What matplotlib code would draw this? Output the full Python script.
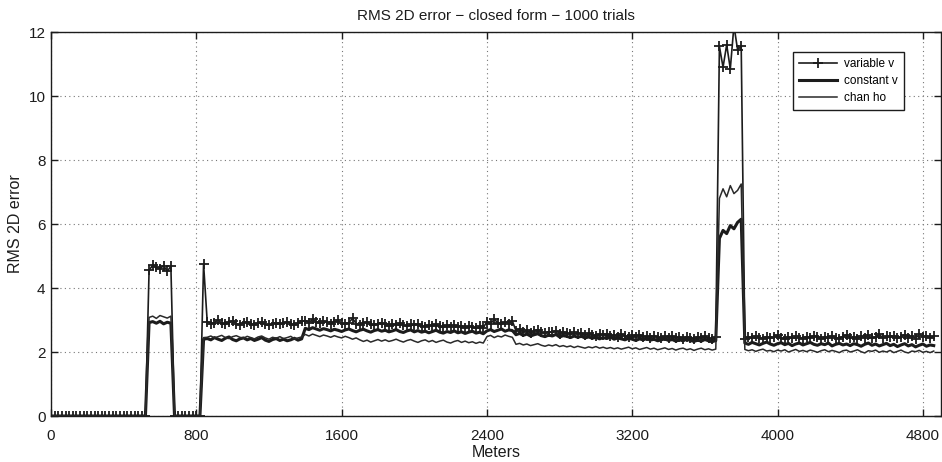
import numpy as np
import matplotlib
matplotlib.use("Agg")
import matplotlib.pyplot as plt

plt.rcParams['font.family'] = ['Liberation Sans', 'DejaVu Sans']

# distance along the track, one sample every 20 m
meters = np.arange(0, 4861, 20)

zeros_start = [0.0, 0.0, 0.0, 0.0, 0.0, 0.0, 0.0, 0.0, 0.0, 0.0, 0.0, 0.0, 0.0, 0.0,
               0.0, 0.0, 0.0, 0.0, 0.0, 0.0, 0.0, 0.0, 0.0, 0.0, 0.0, 0.0, 0.0]
zeros_gap = [0.0, 0.0, 0.0, 0.0, 0.0, 0.0, 0.0, 0.0]

variable_v = (
    zeros_start
    + [4.55, 4.72, 4.65, 4.60, 4.70, 4.52, 4.68]
    + zeros_gap
    + [4.75]
    + [2.95, 2.88, 2.92, 3.00, 2.90, 2.86, 2.93, 2.97, 2.89, 2.84, 2.91, 2.95, 2.88, 2.85,
       2.90, 2.93, 2.87, 2.83, 2.89, 2.92, 2.86, 2.90, 2.95, 2.88, 2.84, 2.90, 2.96]
    + [2.98, 2.92, 3.02, 2.95, 2.90, 2.96, 2.93, 2.88, 2.94, 2.99,
       2.91, 2.86, 2.92, 3.05, 2.89, 2.85, 2.90, 2.94, 2.87, 2.83,
       2.89, 2.92, 2.86, 2.81, 2.88, 2.84, 2.90, 2.85, 2.80, 2.86,
       2.83, 2.88, 2.82, 2.79, 2.85, 2.81, 2.87, 2.80, 2.77, 2.83,
       2.79, 2.84, 2.78, 2.82, 2.76, 2.81, 2.78, 2.74, 2.80, 2.76]
    + [2.95, 2.88, 3.02, 2.92, 2.86, 2.94, 2.89, 2.97]
    + [2.66, 2.72, 2.63, 2.68, 2.60, 2.65, 2.70, 2.62, 2.58, 2.64,
       2.61, 2.67, 2.57, 2.62, 2.59, 2.55, 2.61, 2.56, 2.60, 2.53,
       2.58, 2.54, 2.50, 2.56, 2.52, 2.57, 2.49, 2.53, 2.48, 2.55,
       2.51, 2.46, 2.52, 2.48, 2.54, 2.47, 2.50, 2.45, 2.51, 2.46,
       2.43, 2.49, 2.45, 2.50, 2.44, 2.47, 2.42, 2.48, 2.44, 2.41,
       2.47, 2.43, 2.49, 2.44, 2.40, 2.46]
    + [11.55, 10.90, 11.60, 10.85, 12.20, 11.45, 11.55]
    + [2.42, 2.47, 2.44, 2.50, 2.45, 2.41, 2.48, 2.43, 2.46, 2.52,
       2.44, 2.40, 2.47, 2.43, 2.49, 2.45, 2.42, 2.48, 2.44, 2.51,
       2.46, 2.41, 2.47, 2.43, 2.50, 2.45, 2.42, 2.48, 2.53, 2.44,
       2.47, 2.41, 2.49, 2.45, 2.52, 2.43, 2.47, 2.55, 2.44, 2.49,
       2.46, 2.51, 2.43, 2.48, 2.54, 2.45, 2.50, 2.42, 2.56, 2.47,
       2.51, 2.44, 2.49]
)

constant_v = (
    zeros_start
    + [2.92, 2.95, 2.90, 2.96, 2.88, 2.93, 2.90]
    + zeros_gap
    + [2.40]
    + [2.42, 2.38, 2.45, 2.40, 2.36, 2.43, 2.47, 2.39, 2.35, 2.41, 2.44, 2.38, 2.42, 2.36,
       2.40, 2.45, 2.37, 2.33, 2.39, 2.42, 2.36, 2.40, 2.35, 2.38, 2.43, 2.37, 2.41]
    + [2.74, 2.70, 2.76, 2.72, 2.68, 2.73, 2.70, 2.66, 2.71, 2.68,
       2.64, 2.69, 2.72, 2.67, 2.63, 2.68, 2.71, 2.66, 2.62, 2.67,
       2.70, 2.65, 2.68, 2.63, 2.66, 2.70, 2.64, 2.61, 2.66, 2.69,
       2.63, 2.67, 2.62, 2.65, 2.60, 2.64, 2.68, 2.62, 2.59, 2.64,
       2.61, 2.66, 2.60, 2.63, 2.58, 2.62, 2.65, 2.59, 2.62, 2.57]
    + [2.66, 2.70, 2.64, 2.68, 2.72, 2.65, 2.69, 2.67]
    + [2.54, 2.58, 2.52, 2.56, 2.50, 2.54, 2.57, 2.51, 2.48, 2.53,
       2.50, 2.55, 2.47, 2.51, 2.49, 2.45, 2.50, 2.46, 2.49, 2.44,
       2.47, 2.43, 2.46, 2.41, 2.45, 2.42, 2.47, 2.40, 2.44, 2.41,
       2.38, 2.43, 2.40, 2.36, 2.41, 2.38, 2.42, 2.37, 2.40, 2.35,
       2.38, 2.41, 2.36, 2.39, 2.34, 2.38, 2.35, 2.40, 2.36, 2.33,
       2.37, 2.34, 2.39, 2.35, 2.32, 2.36]
    + [5.55, 5.80, 5.70, 5.95, 5.85, 6.05, 6.15]
    + [2.28, 2.24, 2.30, 2.26, 2.22, 2.27, 2.31, 2.25, 2.21, 2.26,
       2.29, 2.23, 2.27, 2.20, 2.25, 2.28, 2.22, 2.26, 2.30, 2.24,
       2.21, 2.26, 2.23, 2.28, 2.19, 2.24, 2.27, 2.22, 2.25, 2.20,
       2.26, 2.23, 2.18, 2.24, 2.28, 2.21, 2.25, 2.19, 2.23, 2.27,
       2.20, 2.24, 2.17, 2.22, 2.26, 2.19, 2.23, 2.16, 2.21, 2.25,
       2.18, 2.22, 2.20]
)

chan_ho = (
    zeros_start
    + [3.08, 3.12, 3.05, 3.14, 3.10, 3.06, 3.12]
    + zeros_gap
    + [2.45]
    + [2.46, 2.50, 2.44, 2.48, 2.52, 2.45, 2.42, 2.48, 2.51, 2.46, 2.43, 2.49, 2.45, 2.41,
       2.47, 2.50, 2.44, 2.40, 2.46, 2.43, 2.48, 2.42, 2.45, 2.49, 2.41, 2.44, 2.47]
    + [2.55, 2.50, 2.56, 2.52, 2.48, 2.53, 2.50, 2.46, 2.51, 2.47,
       2.44, 2.49, 2.45, 2.40, 2.44, 2.38, 2.33, 2.37, 2.31, 2.35,
       2.39, 2.34, 2.38, 2.33, 2.36, 2.40, 2.35, 2.31, 2.36, 2.39,
       2.34, 2.30, 2.35, 2.38, 2.32, 2.36, 2.30, 2.34, 2.37, 2.31,
       2.28, 2.33, 2.36, 2.30, 2.34, 2.29, 2.32, 2.27, 2.31, 2.28]
    + [2.48, 2.52, 2.45, 2.50, 2.47, 2.53, 2.49, 2.46]
    + [2.24, 2.27, 2.22, 2.25, 2.20, 2.23, 2.26, 2.21, 2.18, 2.22,
       2.19, 2.23, 2.17, 2.20, 2.16, 2.19, 2.14, 2.18, 2.15, 2.12,
       2.16, 2.13, 2.17, 2.12, 2.15, 2.11, 2.14, 2.10, 2.13, 2.09,
       2.12, 2.15, 2.10, 2.13, 2.08, 2.11, 2.14, 2.09, 2.12, 2.07,
       2.10, 2.13, 2.08, 2.11, 2.06, 2.10, 2.12, 2.07, 2.10, 2.05,
       2.09, 2.12, 2.07, 2.10, 2.06, 2.09]
    + [6.80, 7.10, 6.85, 7.20, 6.95, 7.05, 7.25]
    + [2.08, 2.04, 2.07, 2.02, 2.06, 2.09, 2.03, 2.05, 2.01, 2.06,
       2.03, 2.07, 2.00, 2.04, 2.08, 2.02, 2.05, 2.01, 2.06, 2.03,
       1.99, 2.04, 2.07, 2.01, 2.05, 2.02, 1.98, 2.04, 2.06, 2.00,
       2.03, 2.07, 2.01, 1.97, 2.04, 2.02, 2.06, 1.99, 2.03, 2.00,
       2.05, 1.98, 2.02, 2.06, 2.00, 1.97, 2.03, 2.01, 2.05, 1.99,
       2.02, 1.98, 2.03]
)

assert len(variable_v) == len(constant_v) == len(chan_ho) == len(meters)

x_ticks = [0, 800, 1600, 2400, 3200, 4000, 4800]
y_ticks = [0, 2, 4, 6, 8, 10, 12]

ink = '#1c1c1c'

fig = plt.figure(figsize=(9.42, 4.62), dpi=100)
ax = fig.add_axes([51 / 942, 46 / 462, 890 / 942, 384 / 462])

ax.plot(meters, variable_v, color=ink, lw=1.2, marker='+', ms=7.5, mew=1.3,
        label='variable v')
ax.plot(meters, constant_v, color=ink, lw=2.2, label='constant v')
ax.plot(meters, chan_ho, color='#2a2a2a', lw=1.1, label='chan ho')

ax.set_xlim(0, 4900)
ax.set_ylim(0, 12)
ax.set_xticks(x_ticks)
ax.set_yticks(y_ticks)
ax.grid(True, color='#777777', linestyle=(0, (1, 3)), linewidth=0.8)
ax.tick_params(direction='in', length=5, width=1, top=True, right=True,
               labelsize=11, colors=ink)
ax.tick_params(axis='x', pad=9)
ax.tick_params(axis='y', pad=4)
for sp in ax.spines.values():
    sp.set_linewidth(1.0)
    sp.set_color(ink)

ax.set_title('RMS 2D error \u2212 closed form \u2212 1000 trials', fontsize=11,
             color=ink, pad=9)
ax.set_xlabel('Meters', fontsize=11.5, color=ink, labelpad=2)
ax.set_ylabel('RMS 2D error', fontsize=11.5, color=ink, labelpad=4)

leg = ax.legend(loc='upper right', bbox_to_anchor=(0.958, 0.948), fontsize=8.5,
                numpoints=1, handlelength=3.2, fancybox=False, framealpha=1,
                borderpad=0.5, labelspacing=0.45, handletextpad=0.6,
                borderaxespad=0)
leg.get_frame().set_edgecolor(ink)
leg.get_frame().set_linewidth(1.0)

fig.savefig('out.png', dpi=100)
